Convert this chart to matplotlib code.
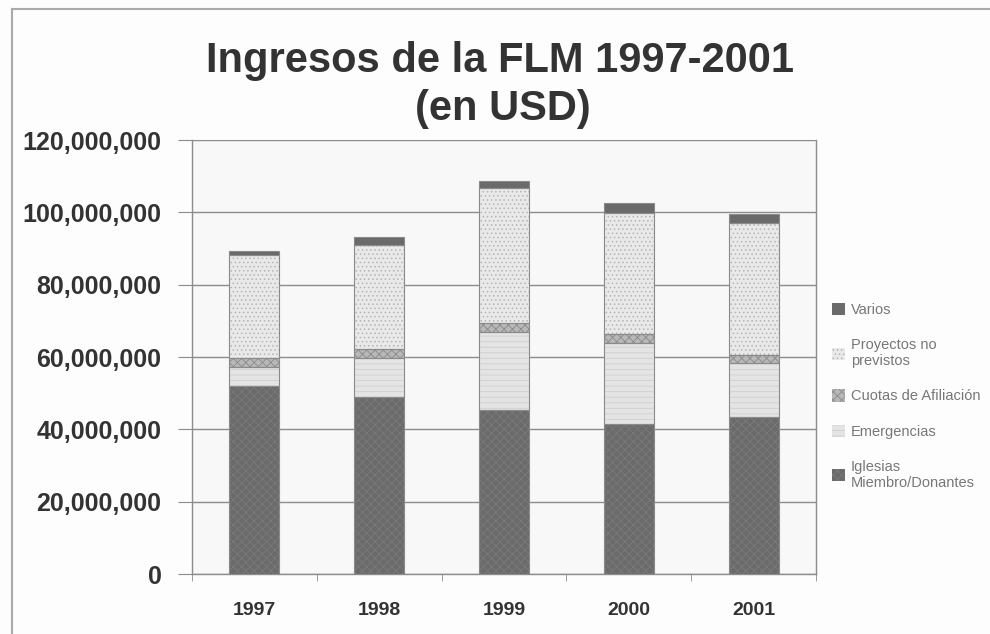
import matplotlib
matplotlib.use("Agg")
import matplotlib.pyplot as plt
import numpy as np
from matplotlib.ticker import FuncFormatter, FixedLocator
from matplotlib.lines import Line2D

plt.rcParams['font.family'] = ['Liberation Sans', 'DejaVu Sans']
plt.rcParams['hatch.linewidth'] = 0.6

years = ["1997", "1998", "1999", "2000", "2001"]
series_names = ["Iglesias\nMiembro/Donantes", "Emergencias", "Cuotas de Afiliación",
                "Proyectos no\nprevistos", "Varios"]
iglesias = [52.0e6, 49.0e6, 45.3e6, 41.5e6, 43.3e6]
emergencias = [5.3e6, 10.6e6, 21.5e6, 22.4e6, 15.0e6]
cuotas = [2.5e6, 2.5e6, 2.5e6, 2.4e6, 2.2e6]
proyectos = [28.4e6, 28.9e6, 37.3e6, 33.6e6, 36.5e6]
varios = [1.2e6, 2.1e6, 2.1e6, 2.6e6, 2.5e6]

series = [iglesias, emergencias, cuotas, proyectos, varios]
faces = ["#6b6b6b", "#e4e4e4", "#b8b8b8", "#e9e9e9", "#6a6a6a"]
hatch_cols = ["#7a7a7a", "#cfcfcf", "#8a8a8a", "#b5b5b5", "#5a5a5a"]
hatches = ["xxxx", "---", "xxxx", "....", ""]

fig = plt.figure(figsize=(9.9, 6.34), dpi=100)
fig.patch.set_facecolor("#fdfdfd")
ax = fig.add_axes([192/990, 1-574/634, (816-192)/990, (574-140)/634])
ax.set_facecolor("#f8f8f8")

x = np.arange(len(years))
bottom = np.zeros(len(years))
handles = []
for vals, fc, hc, h, name in zip(series, faces, hatch_cols, hatches, series_names):
    vals = np.array(vals)
    b = ax.bar(x, vals, width=0.4, bottom=bottom, color=fc, edgecolor=hc,
               hatch=h, linewidth=0.0, zorder=3, label=name)
    ax.bar(x, vals, width=0.4, bottom=bottom, fill=False, edgecolor="#8a8a8a",
           linewidth=0.8, zorder=4)
    handles.append(b)
    bottom += vals

ax.set_xlim(-0.5, len(years) - 0.5)
ax.set_ylim(0, 120e6)
ax.yaxis.set_major_locator(FixedLocator(np.arange(0, 120e6 + 1, 20e6)))
ax.yaxis.set_major_formatter(FuncFormatter(lambda v, p: f"{int(v):,}"))
ax.grid(axis='y', color="#8c8c8c", linewidth=1.0, zorder=0)
ax.set_axisbelow(True)

ax.set_xticks(x)
ax.set_xticklabels(years)
ax.set_xticks(np.arange(-0.5, len(years)), minor=True)
ax.tick_params(axis='x', which='major', length=0, pad=20, labelsize=14,
               labelcolor="#333333")
ax.tick_params(axis='x', which='minor', length=5, color="#8c8c8c", direction='out')
for lab in ax.get_xticklabels():
    lab.set_fontweight('bold')
ax.tick_params(axis='y', length=10, color="#8c8c8c", direction='out', pad=12,
               labelsize=18, labelcolor="#333333")
for lab in ax.get_yticklabels():
    lab.set_fontweight('bold')

ax.spines['top'].set_visible(False)
for s in ['left', 'bottom', 'right']:
    ax.spines[s].set_color("#8c8c8c")
    ax.spines[s].set_linewidth(1.0)

fig.text(500/990, 1-72/634, "Ingresos de la FLM 1997-2001", ha='center', va='baseline',
         fontsize=30, fontweight='bold', color="#333333")
fig.text(503/990, 1-120/634, "(en USD)", ha='center', va='baseline',
         fontsize=30, fontweight='bold', color="#333333")

leg = fig.legend(handles[::-1], series_names[::-1], loc='upper left',
                 bbox_to_anchor=(826/990, 1-297/634), frameon=False,
                 fontsize=10.5, labelcolor="#777777", handlelength=0.9,
                 handleheight=0.9, handletextpad=0.4, labelspacing=1.45,
                 borderaxespad=0)

# outer frame
fig.add_artist(Line2D([12/990, 12/990], [0, 1-9/634], transform=fig.transFigure,
                      color="#aaaaaa", linewidth=1.5))
fig.add_artist(Line2D([12/990, 1], [1-9/634, 1-9/634], transform=fig.transFigure,
                      color="#aaaaaa", linewidth=1.5))

fig.savefig("out.png", dpi=100, facecolor=fig.get_facecolor())
